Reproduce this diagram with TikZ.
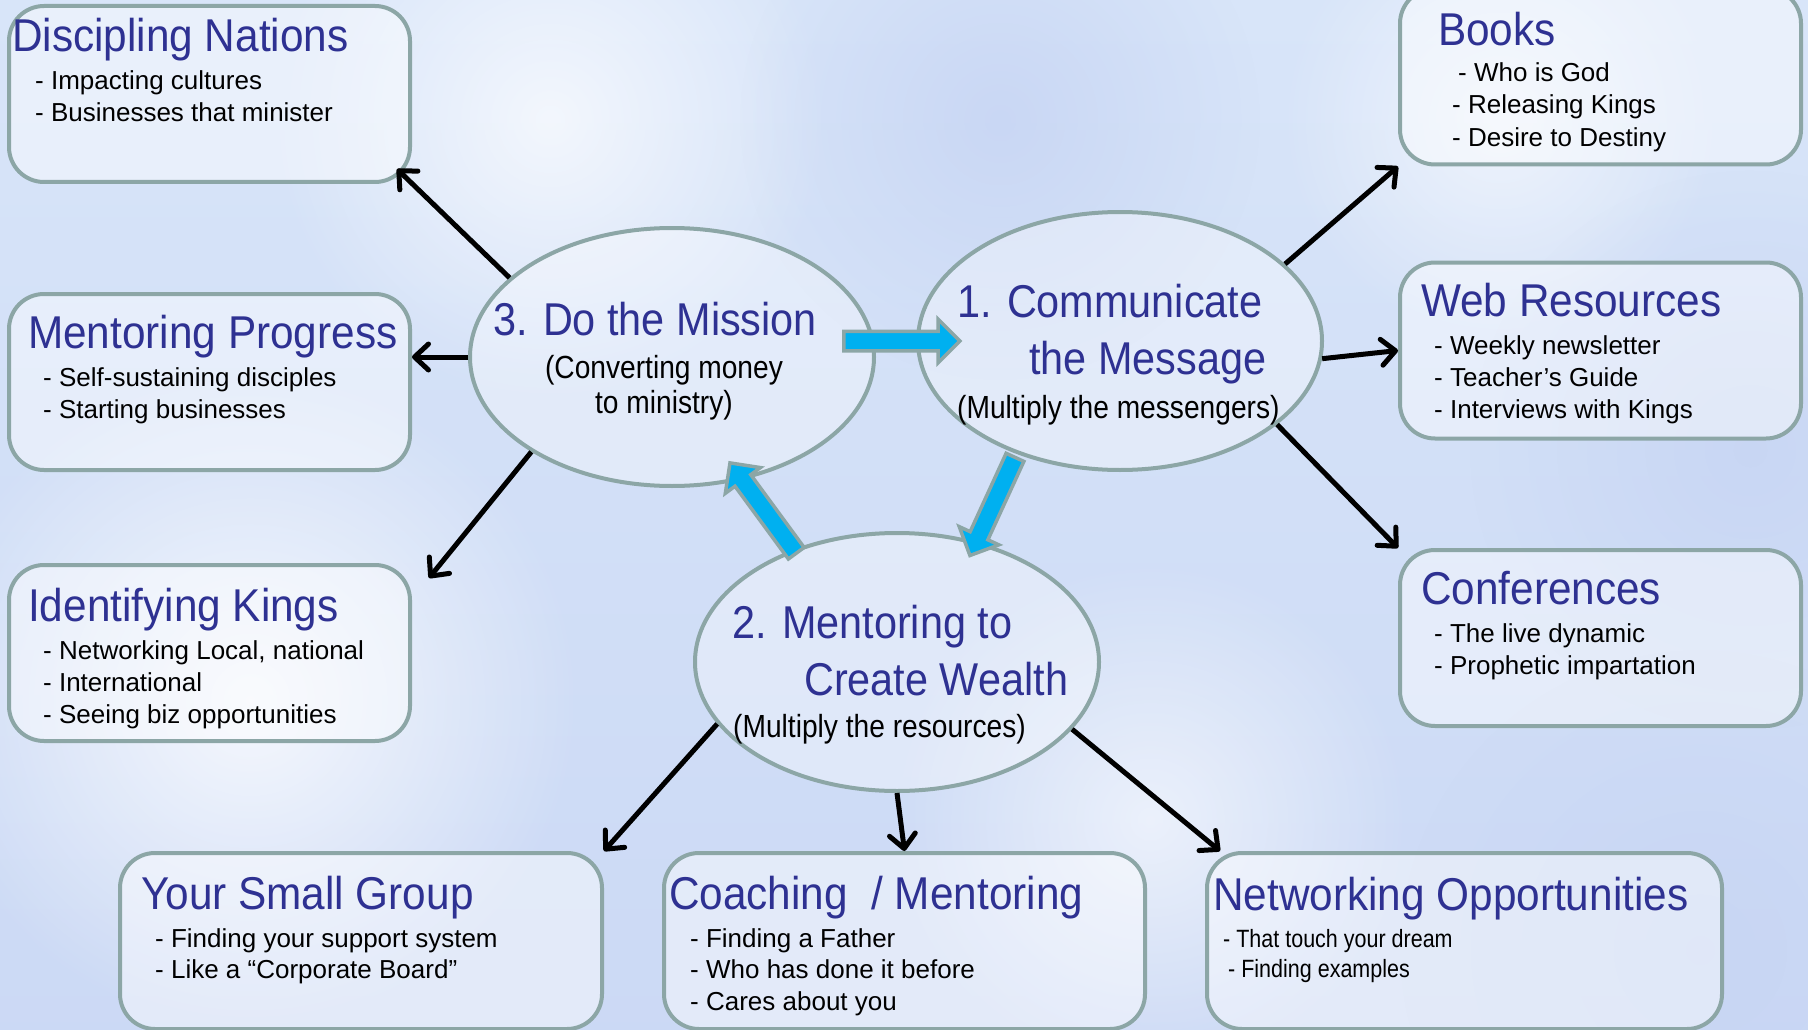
\documentclass[tikz,border=0pt]{standalone}
\usepackage{fontspec}
\setmainfont{Liberation Sans}
\newfontfamily\headfont[FakeStretch=0.9]{Liberation Sans}
\newfontfamily\boxfont[FakeStretch=0.92]{Liberation Sans}
\newfontfamily\subfont[FakeStretch=0.88]{Liberation Sans}
\newfontfamily\slimfont[FakeStretch=0.86]{Liberation Sans}
\usetikzlibrary{shapes.geometric, shapes.arrows, arrows.meta, calc, fadings}
\definecolor{navy}{HTML}{2E3192}
\definecolor{rim}{HTML}{8CA6A6}
\definecolor{cyanfill}{HTML}{00B0F0}
\definecolor{sky}{HTML}{D8E5F9}
\definecolor{haze}{HTML}{C6D4F3}
\tikzfading[name=soft, inner color=transparent!0, outer color=transparent!100]

\begin{document}
\begin{tikzpicture}[x=1pt, y=-1pt,
    box/.style={draw=rim, line width=4pt, rounded corners=35pt, fill=white, fill opacity=0.45, minimum width=401pt, minimum height=176pt},
    goal/.style={ellipse, draw=rim, line width=4pt, fill=white, fill opacity=0.35, minimum width=404pt, minimum height=258pt},
    head/.style={anchor=base west, inner sep=0pt, text=navy, font=\headfont\fontsize{46}{50}\selectfont},
    boxhead/.style={head, font=\boxfont\fontsize{46}{50}\selectfont},
    item/.style={anchor=base west, inner sep=0pt, font=\fontsize{26}{30}\selectfont},
    slim/.style={anchor=base west, inner sep=0pt, font=\slimfont\fontsize{25}{30}\selectfont},
    sub/.style={anchor=base, inner sep=0pt, font=\subfont\fontsize{32}{36}\selectfont},
    link/.style={line width=5pt, -{Straight Barb[length=14pt, width=26pt, round]}},
    flowarrow/.style={single arrow, draw=rim, fill=cyanfill, line width=3.5pt, inner sep=0pt, inner ysep=8pt, single arrow head extend=12pt, sloped, allow upside down}]

    \clip (0,0) rectangle (1808,1030);
    \fill[top color=sky, bottom color=haze!70!sky] (0,0) rectangle (1808,1030);
    \fill[white, path fading=soft, opacity=0.8] (250,700) circle (330pt);
    \fill[white, path fading=soft, opacity=0.7] (550,120) circle (280pt);
    \fill[white, path fading=soft, opacity=0.6] (1150,820) circle (260pt);
    \fill[white, path fading=soft, opacity=0.6] (1500,120) circle (220pt);
    \fill[haze, path fading=soft, opacity=0.8] (1000,120) circle (260pt);
    \fill[haze, path fading=soft, opacity=0.8] (1750,450) circle (280pt);
    \fill[haze, path fading=soft, opacity=0.7] (1700,950) circle (300pt);

    % boxes
    \node[box] (dn) at (209.5,94) {};
    \node[box] (mp) at (209.5,382) {};
    \node[box] (ik) at (209.5,653) {};
    \node[box] (bk) at (1600.5,76.5) {};
    \node[box] (wr) at (1600.5,350.5) {};
    \node[box] (cf) at (1600.5,638) {};
    \node[box, minimum width=482pt] (sg) at (361,941) {};
    \node[box, minimum width=481pt] (cm) at (904.5,941) {};
    \node[box, minimum width=515pt] (no) at (1464.5,941) {};

    % the three steps
    \node[goal] (mission) at (672,357) {};
    \node[goal] (comm) at (1120,341) {};
    \node[goal] (wealth) at (897,662) {};

    \coordinate (f1a) at (839,341);
    \coordinate (f1b) at (955,341);
    \coordinate (f2a) at (1017,453);
    \coordinate (f2b) at (972,551);
    \coordinate (f3a) at (799,557);
    \coordinate (f3b) at (733,467);
    \path (f1a) -- node[flowarrow, minimum height=116pt] (flow1) {} (f1b);
    \path (f2a) -- node[flowarrow, minimum height=108pt] (flow2) {} (f2b);
    \path (f3a) -- node[flowarrow, minimum height=112pt] (flow3) {} (f3b);

    \node[head] (missionT) at (493,335) {3. Do the Mission};
    \node[sub] (missionS1) at (664,378) {(Converting money};
    \node[sub] (missionS2) at (664,413) {to ministry)};

    \node[head] (commT1) at (957,317) {1. Communicate};
    \node[head] (commT2) at (1029,374) {the Message};
    \node[sub, anchor=base west] (commS) at (957,418) {(Multiply the messengers)};

    \node[head] (wealthT1) at (732,638) {2. Mentoring to};
    \node[head] (wealthT2) at (804,695) {Create Wealth};
    \node[sub, anchor=base west] (wealthS) at (733,737) {(Multiply the resources)};

    % box texts
    \node[boxhead] (dnT) at (12,52) {Discipling Nations};
    \node[item] (dn1) at (35,90) {- Impacting cultures};
    \node[item] (dn2) at (35,122) {- Businesses that minister};

    \node[boxhead] (mpT) at (28,348) {Mentoring Progress};
    \node[item] (mp1) at (43,386) {- Self-sustaining disciples};
    \node[item] (mp2) at (43,418) {- Starting businesses};

    \node[boxhead] (ikT) at (28,621) {Identifying Kings};
    \node[item] (ik1) at (43,659) {- Networking Local, national};
    \node[item] (ik2) at (43,691) {- International};
    \node[item] (ik3) at (43,723) {- Seeing biz opportunities};

    \node[boxhead] (bkT) at (1438,46) {Books};
    \node[item] (bk1) at (1458,82) {- Who is God};
    \node[item] (bk2) at (1452,114) {- Releasing Kings};
    \node[item] (bk3) at (1452,147) {- Desire to Destiny};

    \node[boxhead] (wrT) at (1421,316) {Web Resources};
    \node[item] (wr1) at (1434,354) {- Weekly newsletter};
    \node[item] (wr2) at (1434,386) {- Teacher’s Guide};
    \node[item] (wr3) at (1434,418) {- Interviews with Kings};

    \node[boxhead] (cfT) at (1421,604) {Conferences};
    \node[item] (cf1) at (1434,642) {- The live dynamic};
    \node[item] (cf2) at (1434,674) {- Prophetic impartation};

    \node[boxhead] (sgT) at (141,909) {Your Small Group};
    \node[item] (sg1) at (155,947) {- Finding your support system};
    \node[item] (sg2) at (155,978) {- Like a “Corporate Board”};

    \node[boxhead] (cmT) at (669,909) {Coaching\ \ / Mentoring};
    \node[item] (cm1) at (690,947) {- Finding a Father};
    \node[item] (cm2) at (690,978) {- Who has done it before};
    \node[item] (cm3) at (690,1010) {- Cares about you};

    \node[boxhead] (noT) at (1213,910) {Networking Opportunities};
    \node[slim] (no1) at (1223,947) {- That touch your dream};
    \node[slim] (no2) at (1228,977) {- Finding examples};

    % connectors
    \draw[link] (mission.154) -- ($(dn.south east)+(-15,-15)$);
    \draw[link] (mission.west) -- (mission.west -| mp.east);
    \draw[link] (mission.214) -- ($(ik.north east)+(17,15)$);
    \draw[link] (comm.25) -- (bk.south west);
    \draw[link] (comm.-5) -- (wr.west);
    \draw[link] (comm.-28) -- (cf.north west);
    \draw[link] (wealth.199) -- (sg.north east);
    \draw[link] (wealth.south) -- (cm.north);
    \draw[link] (wealth.-21) -- ($(no.north west)+(15,0)$);
\end{tikzpicture}
\end{document}
